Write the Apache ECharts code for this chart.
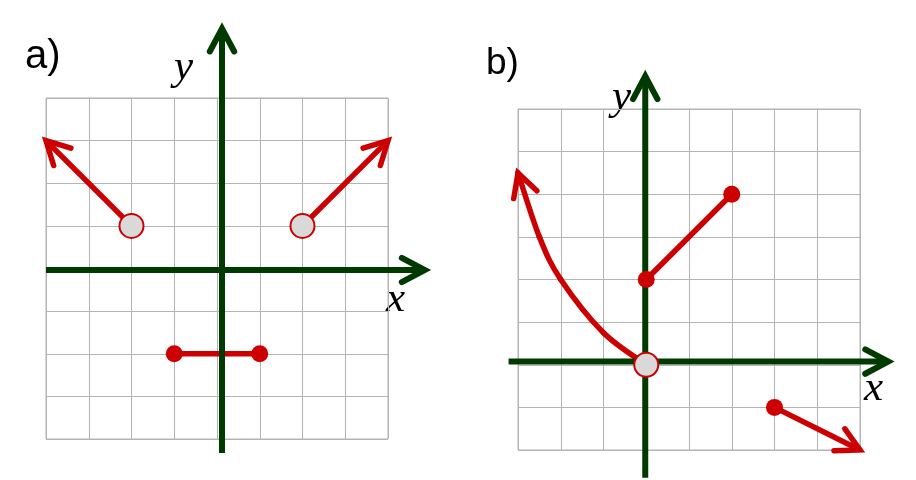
<!DOCTYPE html>
<html><head><meta charset="utf-8">
<script src="https://cdn.jsdelivr.net/npm/echarts@6/dist/echarts.min.js"></script>
<style>html,body{margin:0;padding:0;background:#fff}#c{width:916px;height:480px}</style>
</head><body><div id="c"></div>
<script>
// ---------- Panel a data ----------
const aXRange = [-4, 4];
const aYRange = [-4, 4];
const aAxisX = [[-4, 0], [4.86, 0]];
const aAxisY = [[0, -4.33], [0, 5.63]];
const aLeftRay = [[-2, 1], [-4, 3]];
const aRightRay = [[2, 1], [4, 3]];
const aSegment = [[-1, -2], [1, -2]];
const aOpen = [[-2, 1], [2, 1]];
const aClosed = [[-1, -2], [1, -2]];
// ---------- Panel b data ----------
const bXRange = [-3, 5];
const bYRange = [-2, 6];
const bAxisX = [[-3.22, 0], [5.66, 0]];
const bAxisY = [[0, -2.65], [0, 6.77]];
const bCurve = [[0, 0], [-1, 0.75], [-2, 2], [-2.5, 3], [-3, 4.5]];
const bSegment = [[0, 2], [2, 4]];
const bRay = [[3, -1], [5, -2]];
const bOpen = [[0, 0]];
const bClosed = [[0, 2], [2, 4], [3, -1]];

const RED = '#cc0000';
const GREEN = '#003a00';
const GRIDC = '#b4b4b4';

function arrowHead(P, dx, dy, arrow, color, width) {
  const L = Math.hypot(dx, dy); dx /= L; dy /= L;
  const th = arrow.angle * Math.PI / 180, len = arrow.len;
  const w = s => {
    const c = Math.cos(s * th), sn = Math.sin(s * th);
    const rx = dx * c - dy * sn, ry = dx * sn + dy * c;
    return [P[0] - rx * len, P[1] - ry * len];
  };
  return {
    type: 'polyline',
    shape: { points: [w(1), P, w(-1)] },
    style: { stroke: color, lineWidth: width, fill: null, lineCap: 'round', lineJoin: 'miter' }
  };
}

function pathSeries(gridIdx, paths, z) {
  return {
    type: 'custom',
    coordinateSystem: 'cartesian2d',
    xAxisIndex: gridIdx, yAxisIndex: gridIdx,
    z: z, silent: true, clip: false,
    data: paths.map(p => p.pts[0]),
    renderItem: function (params, api) {
      const p = paths[params.dataIndex];
      const off = p.off || [0, 0];
      const px = p.pts.map(pt => { const c = api.coord(pt); return [c[0] + off[0], c[1] + off[1]]; });
      const children = [];
      const n = px.length;
      let endDir = [px[n - 1][0] - px[n - 2][0], px[n - 1][1] - px[n - 2][1]];
      if (p.smooth) {
        // Catmull-Rom spline through the read points
        for (let i = 0; i < n - 1; i++) {
          const p0 = px[Math.max(0, i - 1)], p1 = px[i], p2 = px[i + 1], p3 = px[Math.min(n - 1, i + 2)];
          children.push({
            type: 'bezierCurve',
            shape: {
              x1: p1[0], y1: p1[1], x2: p2[0], y2: p2[1],
              cpx1: p1[0] + (p2[0] - p0[0]) / 6, cpy1: p1[1] + (p2[1] - p0[1]) / 6,
              cpx2: p2[0] - (p3[0] - p1[0]) / 6, cpy2: p2[1] - (p3[1] - p1[1]) / 6
            },
            style: { stroke: p.color, lineWidth: p.width, fill: null, lineCap: 'round' }
          });
        }
        const a = px[n - 2], b = px[n - 1], c0 = px[Math.max(0, n - 3)];
        const cp2 = [b[0] - (b[0] - a[0]) / 6, b[1] - (b[1] - a[1]) / 6];
        endDir = [b[0] - cp2[0], b[1] - cp2[1]];
      } else {
        children.push({
          type: 'polyline',
          shape: { points: px },
          style: { stroke: p.color, lineWidth: p.width, fill: null, lineCap: 'butt', lineJoin: 'round' }
        });
      }
      if (p.arrow) children.push(arrowHead(px[n - 1], endDir[0], endDir[1], p.arrow, p.color, p.width));
      return { type: 'group', children: children };
    }
  };
}

function scatter(gridIdx, pts, open) {
  return {
    type: 'scatter', xAxisIndex: gridIdx, yAxisIndex: gridIdx, z: 5, silent: true,
    data: pts, symbol: 'circle', symbolSize: open ? 24 : 17,
    itemStyle: open ? { color: '#d9d9d9', borderColor: RED, borderWidth: 2, opacity: 1 } : { color: RED, opacity: 1 },
    clip: false
  };
}

function valAxis(range, gridIdx) {
  return {
    type: 'value', gridIndex: gridIdx, min: range[0], max: range[1], interval: 1,
    axisLine: { show: false }, axisTick: { show: false }, axisLabel: { show: false },
    splitLine: { show: true, showMinLine: true, showMaxLine: true, lineStyle: { color: GRIDC, width: 1 } }
  };
}

const redArrow = { len: 26, angle: 28 };
const greenArrow = { len: 26, angle: 28 };
const SERIF = 'italic 43px "Liberation Serif", "Times New Roman", serif';
const SANS = '"Liberation Sans", Arial, sans-serif';

const option = {
  animation: false,
  backgroundColor: '#fff',
  grid: [
    { left: 46, top: 98, width: 342, height: 341, show: true, borderColor: GRIDC, borderWidth: 1, backgroundColor: 'transparent' },
    { left: 518, top: 109, width: 342, height: 341, show: true, borderColor: GRIDC, borderWidth: 1, backgroundColor: 'transparent' }
  ],
  xAxis: [valAxis(aXRange, 0), valAxis(bXRange, 1)],
  yAxis: [valAxis(aYRange, 0), valAxis(bYRange, 1)],
  series: [
    pathSeries(0, [
      { pts: aLeftRay, color: RED, width: 5.5, arrow: redArrow },
      { pts: aRightRay, color: RED, width: 5.5, arrow: redArrow },
      { pts: aSegment, color: RED, width: 5.5 }
    ], 2),
    pathSeries(0, [
      { pts: aAxisX, color: GREEN, width: 6, arrow: greenArrow, off: [0, 1.5] },
      { pts: aAxisY, color: GREEN, width: 6, arrow: greenArrow, off: [5, 0] }
    ], 3),
    scatter(0, aOpen, true),
    scatter(0, aClosed, false),
    pathSeries(1, [
      { pts: bCurve, color: RED, width: 5.5, arrow: redArrow, smooth: true },
      { pts: bSegment, color: RED, width: 5.5 },
      { pts: bRay, color: RED, width: 5.5, arrow: redArrow }
    ], 2),
    pathSeries(1, [
      { pts: bAxisX, color: GREEN, width: 6, arrow: greenArrow, off: [0, -3.2] },
      { pts: bAxisY, color: GREEN, width: 6, arrow: greenArrow, off: [-1, 0] }
    ], 3),
    scatter(1, bOpen, true),
    scatter(1, bClosed, false)
  ],
  graphic: [
    { type: 'text', left: 25, top: 37, style: { text: 'a)', font: '40px ' + SANS, fill: '#000' } },
    { type: 'text', left: 486, top: 45, style: { text: 'b)', font: '37px ' + SANS, fill: '#000' } },
    { type: 'text', left: 174, top: 46, style: { text: 'y', font: SERIF, fill: '#000' } },
    { type: 'text', left: 386, top: 278, style: { text: 'x', font: SERIF, fill: '#000' } },
    { type: 'text', left: 612, top: 76, style: { text: 'y', font: SERIF, fill: '#000' } },
    { type: 'text', left: 864, top: 367, style: { text: 'x', font: SERIF, fill: '#000' } }
  ]
};

const chart = echarts.init(document.getElementById('c'), null, { renderer: 'canvas' });
chart.setOption(option);
</script>
</body></html>
